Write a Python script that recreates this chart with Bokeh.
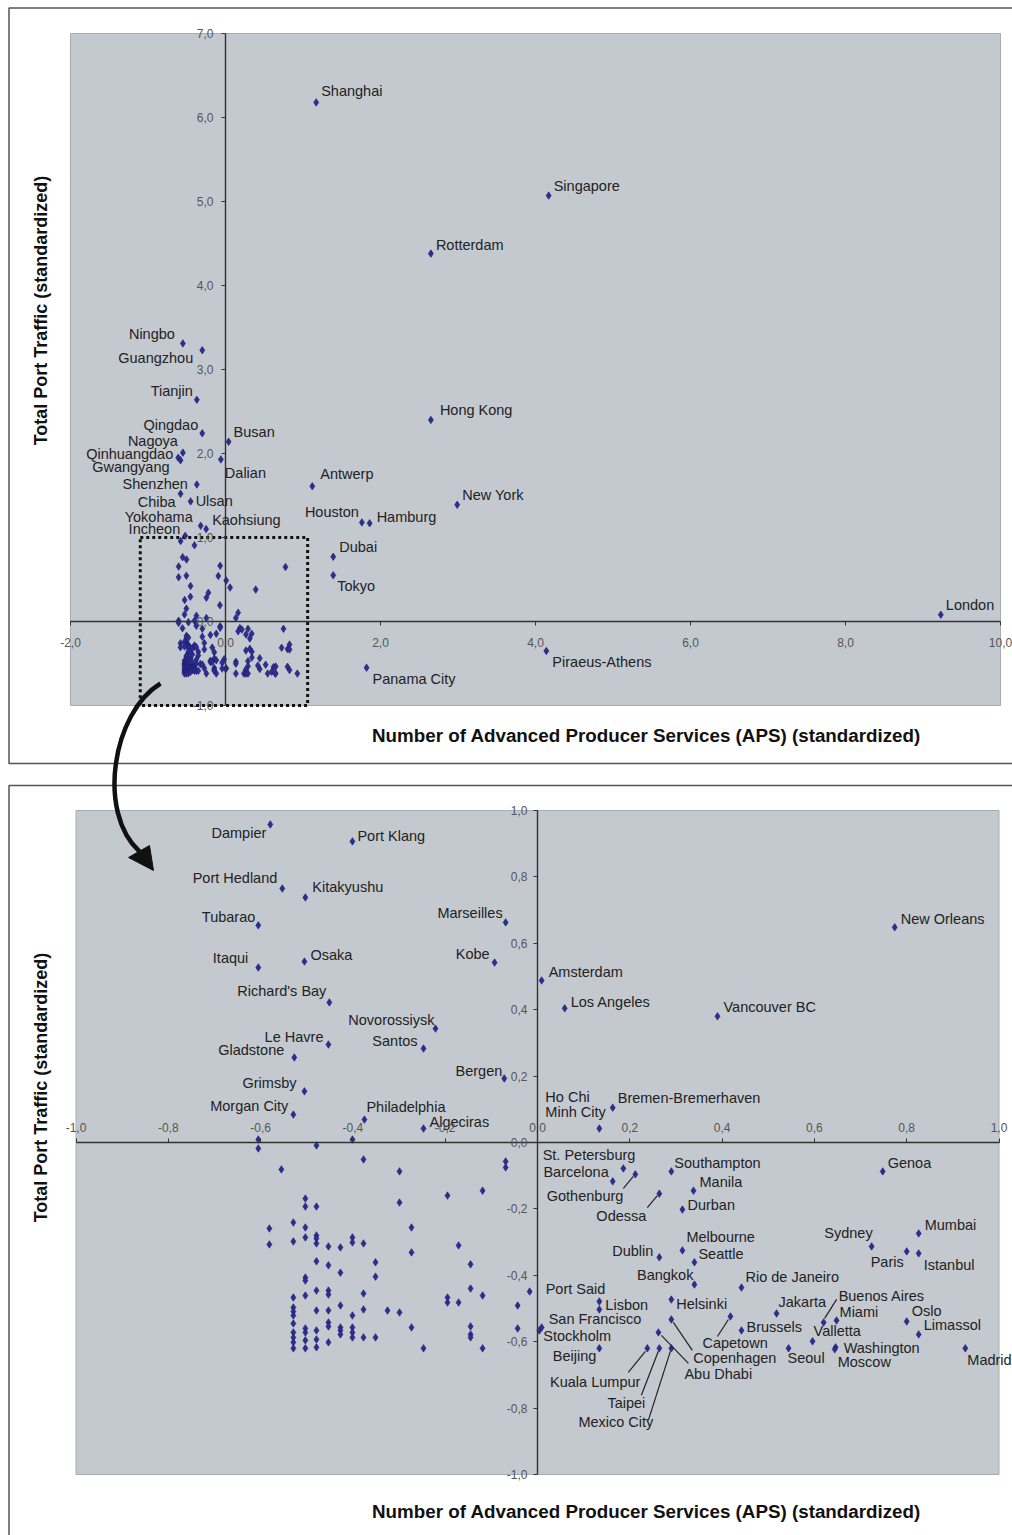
import math
from bokeh.plotting import figure
from bokeh.models import (ColumnDataSource, Range1d, LinearAxis, FixedTicker,
                          CustomJSTickFormatter)
from bokeh.core.properties import value, field
from bokeh.embed import file_html
from bokeh.resources import INLINE

# ------------------------------------------------------------------ data
X_TITLE = "Number of Advanced Producer Services (APS) (standardized)"
Y_TITLE = "Total Port Traffic (standardized)"

TOP_XTICKS = [-2, 0, 2, 4, 6, 8, 10]
TOP_YTICKS = [-1, 0, 1, 2, 3, 4, 5, 6, 7]
BOT_XTICKS = [-1.0, -0.8, -0.6, -0.4, -0.2, 0.0, 0.2, 0.4, 0.6, 0.8, 1.0]
BOT_YTICKS = [-1.0, -0.8, -0.6, -0.4, -0.2, 0.0, 0.2, 0.4, 0.6, 0.8, 1.0]
ZOOM_WINDOW = [-1.1, 1.06, -1.0, 1.0]   # left, right, bottom, top (upper panel)

# cities that only fall inside the upper (full range) panel
TOP_CITIES = ["Shanghai", "Singapore", "Rotterdam", "Hong Kong", "New York", "Antwerp",
              "Houston", "Hamburg", "Dubai", "Tokyo", "London", "Piraeus-Athens",
              "Panama City", "Ningbo", "Guangzhou", "Tianjin", "Qingdao", "Busan",
              "Nagoya", "Qinhuangdao", "Gwangyang", "Dalian", "Shenzhen", "Chiba",
              "Ulsan", "Yokohama", "Kaohsiung", "Incheon"]
TOP_APS = [1.17, 4.17, 2.65, 2.65, 2.99, 1.12, 1.76, 1.86, 1.39, 1.39, 9.23, 4.14, 1.82,
           -0.55, -0.30, -0.37, -0.30, 0.04, -0.55, -0.61, -0.58, -0.06, -0.37, -0.58,
           -0.45, -0.32, -0.25, -0.52]
TOP_PORT = [6.18, 5.07, 4.38, 2.40, 1.39, 1.61, 1.18, 1.17, 0.77, 0.55, 0.08, -0.35, -0.55,
            3.31, 3.23, 2.64, 2.24, 2.14, 2.01, 1.95, 1.92, 1.93, 1.63, 1.52, 1.43, 1.14,
            1.10, 1.02]

# labelled cities inside the zoom window (-1..1)
ZOOM_CITIES = ["Dampier", "Port Klang", "Port Hedland", "Kitakyushu", "Tubarao", "Itaqui", "Osaka",
               "Richard's Bay", "Novorossiysk", "Le Havre", "Santos", "Gladstone", "Bergen", "Grimsby", "Morgan City",
               "Philadelphia", "Algeciras", "Marseilles", "Kobe", "Amsterdam", "Los Angeles", "Vancouver BC",
               "New Orleans", "Ho Chi Minh City", "Bremen-Bremerhaven", "St. Petersburg", "Barcelona", "Gothenburg",
               "Odessa", "Southampton", "Manila", "Durban", "Genoa", "Mumbai", "Sydney", "Paris", "Istanbul", "Dublin",
               "Melbourne", "Seattle", "Bangkok", "Rio de Janeiro", "Port Said", "Lisbon", "Helsinki", "Jakarta",
               "Buenos Aires", "Miami", "Oslo", "Limassol", "San Francisco", "Stockholm", "Brussels", "Capetown",
               "Valletta", "Washington", "Moscow", "Seoul", "Madrid", "Beijing", "Copenhagen", "Abu Dhabi",
               "Kuala Lumpur", "Taipei", "Mexico City"]
ZOOM_APS = [-0.579, -0.401, -0.553, -0.503, -0.605, -0.605, -0.505,
            -0.451, -0.221, -0.453, -0.247, -0.527, -0.072, -0.505, -0.529,
            -0.375, -0.247, -0.069, -0.093, 0.009, 0.059, 0.390,
            0.774, 0.134, 0.163, 0.186, 0.163, 0.212,
            0.264, 0.290, 0.338, 0.314, 0.748, 0.826, 0.724, 0.800, 0.826, 0.264,
            0.314, 0.340, 0.340, 0.442, -0.017, 0.134, 0.290, 0.518,
            0.620, 0.648, 0.800, 0.826, 0.009, 0.004, 0.442, 0.418,
            0.596, 0.646, 0.644, 0.544, 0.927, 0.134, 0.290, 0.262,
            0.238, 0.264, 0.290]
ZOOM_PORT = [0.958, 0.907, 0.765, 0.738, 0.654, 0.527, 0.545,
             0.422, 0.343, 0.295, 0.283, 0.256, 0.193, 0.154, 0.084,
             0.069, 0.042, 0.663, 0.542, 0.488, 0.404, 0.380,
             0.648, 0.042, 0.105, -0.078, -0.117, -0.096,
             -0.154, -0.087, -0.145, -0.202, -0.087, -0.274, -0.313, -0.328, -0.334, -0.346,
             -0.325, -0.361, -0.428, -0.437, -0.449, -0.479, -0.473, -0.515,
             -0.542, -0.536, -0.539, -0.578, -0.557, -0.566, -0.566, -0.524,
             -0.599, -0.617, -0.623, -0.620, -0.620, -0.620, -0.533, -0.572,
             -0.620, -0.620, -0.620]

# unlabelled cities inside the zoom window
UNL_APS = [-0.605, -0.605, -0.479, -0.401, -0.377, -0.555, -0.299, -0.069, -0.069, -0.119,
           -0.195, -0.503, -0.503, -0.479, -0.299, -0.581, -0.581, -0.529, -0.503, -0.503,
           -0.479, -0.479, -0.479, -0.453, -0.427, -0.401, -0.401, -0.377, -0.529, -0.273,
           -0.273, -0.171, -0.479, -0.453, -0.427, -0.351, -0.351, -0.145, -0.503, -0.503,
           -0.145, -0.119, -0.529, -0.503, -0.479, -0.453, -0.453, -0.377, -0.195, -0.195,
           -0.171, -0.529, -0.529, -0.529, -0.479, -0.453, -0.427, -0.401, -0.377, -0.325,
           -0.299, -0.043, -0.529, -0.453, -0.453, -0.427, -0.401, -0.273, -0.145, -0.043,
           -0.529, -0.529, -0.529, -0.529, -0.503, -0.503, -0.503, -0.503, -0.479, -0.479,
           -0.479, -0.453, -0.427, -0.427, -0.401, -0.401, -0.377, -0.351, -0.247, -0.145,
           -0.145, -0.119, 0.134]
UNL_PORT = [0.009, -0.018, -0.009, 0.009, -0.051, -0.081, -0.087, -0.057, -0.075, -0.145,
            -0.160, -0.169, -0.193, -0.193, -0.181, -0.259, -0.307, -0.241, -0.256, -0.286,
            -0.280, -0.289, -0.304, -0.313, -0.316, -0.286, -0.301, -0.304, -0.298, -0.256,
            -0.331, -0.310, -0.358, -0.370, -0.392, -0.361, -0.404, -0.367, -0.407, -0.416,
            -0.440, -0.461, -0.467, -0.461, -0.446, -0.446, -0.458, -0.455, -0.467, -0.482,
            -0.482, -0.497, -0.509, -0.521, -0.506, -0.506, -0.491, -0.521, -0.503, -0.506,
            -0.512, -0.491, -0.545, -0.542, -0.554, -0.557, -0.557, -0.557, -0.554, -0.560,
            -0.572, -0.587, -0.602, -0.620, -0.560, -0.572, -0.596, -0.620, -0.566, -0.593,
            -0.617, -0.602, -0.566, -0.578, -0.572, -0.587, -0.587, -0.587, -0.620, -0.578,
            -0.587, -0.620, -0.503]

# ------------------------------------------------------------------ label placement (screen px)
TOP_LABEL_POS = {
    "Shanghai": ("left", 5, -11), "Singapore": ("left", 5, -10), "Rotterdam": ("left", 5, -9),
    "Hong Kong": ("left", 9, -10), "New York": ("left", 5, -10), "Antwerp": ("left", 8, -12),
    "Houston": ("right", -3, -10), "Hamburg": ("left", 7, -6), "Dubai": ("left", 6, -10),
    "Tokyo": ("left", 4, 11), "London": ("left", 5, -10), "Piraeus-Athens": ("left", 6, 11),
    "Panama City": ("left", 6, 11), "Ningbo": ("right", -8, -9), "Guangzhou": ("right", -9, 8),
    "Tianjin": ("right", -4, -9), "Qingdao": ("right", -4, -8), "Busan": ("left", 5, -10),
    "Nagoya": ("right", -5, -12), "Qinhuangdao": ("right", -5, -4), "Gwangyang": ("right", -11, 7),
    "Dalian": ("left", 4, 14), "Shenzhen": ("right", -9, -1), "Chiba": ("right", -5, 8),
    "Ulsan": ("left", 5, 0), "Yokohama": ("right", -8, -9), "Kaohsiung": ("left", 6, -9),
    "Incheon": ("right", -5, -7),
}
BOT_LABEL_POS = {
    "Dampier": ("right", -4, 9), "Port Klang": ("left", 5, -5), "Port Hedland": ("right", -5, -11),
    "Kitakyushu": ("left", 7, -10), "Tubarao": ("right", -3, -8), "Itaqui": ("right", -10, -10),
    "Osaka": ("left", 6, -7), "Richard's Bay": ("right", -3, -11), "Novorossiysk": ("right", -1, -9),
    "Le Havre": ("right", -5, -8), "Santos": ("right", -6, -8), "Gladstone": ("right", -10, -8),
    "Bergen": ("right", -2, -7), "Grimsby": ("right", -8, -8), "Morgan City": ("right", -5, -9),
    "Philadelphia": ("left", 2, -13), "Algeciras": ("left", 6, -7), "Marseilles": ("right", -3, -9),
    "Kobe": ("right", -5, -9), "Amsterdam": ("left", 7, -8), "Los Angeles": ("left", 6, -6),
    "Vancouver BC": ("left", 6, -9), "New Orleans": ("left", 6, -8),
    "Ho Chi Minh City": ("left", -54, -24), "Bremen-Bremerhaven": ("left", 5, -10),
    "St. Petersburg": ("right", 12, -13), "Barcelona": ("right", -4, -9),
    "Gothenburg": ("right", -12, 22), "Odessa": ("right", -13, 22), "Southampton": ("left", 3, -8),
    "Manila": ("left", 6, -9), "Durban": ("left", 5, -5), "Genoa": ("left", 5, -8),
    "Mumbai": ("left", 6, -8), "Sydney": ("right", 1, -13), "Paris": ("right", -3, 11),
    "Istanbul": ("left", 5, 12), "Dublin": ("right", -6, -6), "Melbourne": ("left", 4, -13),
    "Seattle": ("left", 4, -8), "Bangkok": ("right", -1, -10), "Rio de Janeiro": ("left", 4, -11),
    "Port Said": ("left", 16, -3), "Lisbon": ("left", 6, 3), "Helsinki": ("left", 5, 4),
    "Jakarta": ("left", 2, -11), "Buenos Aires": ("left", 15, -26), "Miami": ("left", 3, -8),
    "Oslo": ("left", 5, -10), "Limassol": ("left", 5, -9), "San Francisco": ("left", 7, -8),
    "Stockholm": ("left", 4, 6), "Brussels": ("left", 5, -3), "Capetown": ("left", -28, 27),
    "Valletta": ("left", 1, -10), "Washington": ("left", 8, 1), "Moscow": ("left", 3, 13),
    "Seoul": ("left", -1, 10), "Madrid": ("left", 2, 12), "Beijing": ("right", -3, 8),
    "Copenhagen": ("left", 22, 39), "Abu Dhabi": ("left", 26, 42), "Kuala Lumpur": ("right", -7, 34),
    "Taipei": ("right", -14, 55), "Mexico City": ("right", -18, 74),
}
LABEL_TEXT = {"Ho Chi Minh City": "Ho Chi\nMinh City"}
# leader lines: (start dx, start dy, end dx, end dy) in screen px from the point
LEADERS = {
    "Gothenburg": (-2, 2, -12, 14), "Odessa": (-2, 2, -12, 14), "Capetown": (-2, 3, -13, 20),
    "Buenos Aires": (1, -4, 13, -23), "Copenhagen": (2, 3, 21, 31), "Abu Dhabi": (3, 3, 30, 31),
    "Kuala Lumpur": (-2, 3, -19, 24), "Taipei": (-1, 3, -18, 47), "Mexico City": (-1, 3, -23, 72),
}

# ------------------------------------------------------------------ layout (page px of the reference)
W, H = 1012, 1535
PX0, PY0 = 0, 0                     # page offset of the canvas
TOP_XMAP = (-2, 70, 10, 1000)       # value, pixel, value, pixel
TOP_YMAP = (7, 33, -1, 705)
BOT_XMAP = (-1, 75.5, 1, 998.5)
BOT_YMAP = (1, 810, -1, 1474)


def xrange_from(m):
    v0, p0, v1, p1 = m
    k = (v1 - v0) / (p1 - p0)
    return Range1d(v0 + (PX0 - p0) * k, v0 + (PX0 + W - p0) * k)


def yrange_from(m):
    v0, p0, v1, p1 = m
    k = (v1 - v0) / (p1 - p0)
    return Range1d(v0 + (PY0 + H - p0) * k, v0 + (PY0 - p0) * k)


def px_per_unit(m):
    v0, p0, v1, p1 = m
    return abs((p1 - p0) / (v1 - v0))


p = figure(width=W, height=H, x_range=Range1d(PX0, PX0 + W), y_range=Range1d(PY0 + H, PY0),
           min_border=0, toolbar_location=None, output_backend="svg",
           x_axis_location=None, y_axis_location=None)
p.grid.visible = False
p.outline_line_color = None
p.background_fill_color = "white"
p.border_fill_color = "white"
p.extra_x_ranges = {"tx": xrange_from(TOP_XMAP), "bx": xrange_from(BOT_XMAP)}
p.extra_y_ranges = {"ty": yrange_from(TOP_YMAP), "by": yrange_from(BOT_YMAP)}

FONT = "Liberation Sans"
GRAY = "#c4c9d0"
PT_FILL = "#2d2d96"
PT_LINE = "#1c1c66"

# panel frames
p.line(x=[1012, 8.5, 8.5, 1012], y=[7.5, 7.5, 763, 763], line_color="#555555", line_width=1.5)
p.line(x=[1012, 8.5, 8.5], y=[785, 785, 1535], line_color="#555555", line_width=1.5)

# plotting areas
p.quad(left=[TOP_XTICKS[0]], right=[TOP_XTICKS[-1]], bottom=[TOP_YTICKS[0]], top=[TOP_YTICKS[-1]],
       fill_color=GRAY, line_color="#a8acb2", line_width=1, x_range_name="tx", y_range_name="ty")
p.quad(left=[BOT_XTICKS[0]], right=[BOT_XTICKS[-1]], bottom=[BOT_YTICKS[0]], top=[BOT_YTICKS[-1]],
       fill_color=GRAY, line_color="#a8acb2", line_width=1, x_range_name="bx", y_range_name="by")

# zoom window box
p.quad(left=[ZOOM_WINDOW[0]], right=[ZOOM_WINDOW[1]], bottom=[ZOOM_WINDOW[2]], top=[ZOOM_WINDOW[3]],
       fill_color=None, line_color="#111111", line_width=3, line_dash="3 3",
       x_range_name="tx", y_range_name="ty")

# connecting arrow
p.bezier(x0=[160], y0=[683], cx0=[112], cy0=[712], cx1=[96], cy1=[812], x1=[139], y1=[851],
         line_color="#111111", line_width=4.5)
p.patch(x=[153, 128, 149], y=[870, 857, 845], fill_color="#111111", line_color="#111111")

# ---- axes through the origin
fmt = CustomJSTickFormatter(code="return tick.toFixed(1).replace('.', ',');")


def add_axis(side, xr, yr, ticks, standoff):
    ax = LinearAxis(x_range_name=xr, y_range_name=yr, fixed_location=0,
                    bounds=(ticks[0], ticks[-1]), ticker=FixedTicker(ticks=ticks), formatter=fmt)
    ax.axis_line_color = "#333333"
    ax.axis_line_width = 1.4
    ax.major_tick_line_color = "#333333"
    ax.major_tick_out = 4
    ax.major_tick_in = 0
    ax.minor_tick_out = 0
    ax.minor_tick_in = 0
    ax.major_label_text_font = FONT
    ax.major_label_text_font_size = "12px"
    ax.major_label_text_color = "#555555"
    ax.major_label_standoff = standoff
    p.add_layout(ax, side)


add_axis("below", "tx", "ty", TOP_XTICKS, 12)
add_axis("left", "tx", "ty", TOP_YTICKS, 8)
add_axis("above", "bx", "by", BOT_XTICKS, 7)
add_axis("left", "bx", "by", BOT_YTICKS, 6)

# ---- points
top_x = TOP_APS + ZOOM_APS + UNL_APS
top_y = TOP_PORT + ZOOM_PORT + UNL_PORT
p.scatter(x=top_x, y=top_y, marker="diamond", size=7.5, fill_color=PT_FILL, line_color=PT_LINE,
          line_width=0.6, x_range_name="tx", y_range_name="ty")
bot_x = ZOOM_APS + UNL_APS
bot_y = ZOOM_PORT + UNL_PORT
p.scatter(x=bot_x, y=bot_y, marker="diamond", size=7.5, fill_color=PT_FILL, line_color=PT_LINE,
          line_width=0.6, x_range_name="bx", y_range_name="by")

# ---- leader lines (bottom panel)
kx, ky = px_per_unit(BOT_XMAP), px_per_unit(BOT_YMAP)
lx0, ly0, lx1, ly1 = [], [], [], []
for name, (sx, sy, ex, ey) in LEADERS.items():
    i = ZOOM_CITIES.index(name)
    lx0.append(ZOOM_APS[i] + sx / kx)
    ly0.append(ZOOM_PORT[i] - sy / ky)
    lx1.append(ZOOM_APS[i] + ex / kx)
    ly1.append(ZOOM_PORT[i] - ey / ky)
p.segment(x0=lx0, y0=ly0, x1=lx1, y1=ly1, line_color="#222222", line_width=1.2,
          x_range_name="bx", y_range_name="by")


# ---- labels
def label_source(names, xs, ys, pos):
    d = dict(x=[], y=[], t=[], dx=[], dy=[], align=[])
    for n, xv, yv in zip(names, xs, ys):
        a, dx, dy = pos[n]
        d["x"].append(xv)
        d["y"].append(yv)
        d["t"].append(LABEL_TEXT.get(n, n))
        d["dx"].append(dx)
        d["dy"].append(dy)
        d["align"].append(a)
    return ColumnDataSource(d)


lab_kw = dict(x="x", y="y", text="t", x_offset="dx", y_offset="dy",
              text_align=field("align"), text_baseline=value("middle"),
              text_font=value(FONT), text_font_size=value("14.5px"), text_color="#222222",
              text_line_height=0.9)
p.text(source=label_source(TOP_CITIES, TOP_APS, TOP_PORT, TOP_LABEL_POS),
       x_range_name="tx", y_range_name="ty", **lab_kw)
p.text(source=label_source(ZOOM_CITIES, ZOOM_APS, ZOOM_PORT, BOT_LABEL_POS),
       x_range_name="bx", y_range_name="by", **lab_kw)

# ---- axis titles
title_kw = dict(text_font=value(FONT), text_font_style="bold",
                text_color="#111111", text_align="center", text_baseline="middle")
p.text(x=[646, 646], y=[735, 1511], text=[X_TITLE, X_TITLE], text_font_size=value("18.8px"), **title_kw)
p.text(x=[40, 40], y=[310, 1087], text=[Y_TITLE, Y_TITLE], angle=math.pi / 2,
       text_font_size=value("18px"), **title_kw)

open("out.html", "w").write(file_html(p, INLINE))
